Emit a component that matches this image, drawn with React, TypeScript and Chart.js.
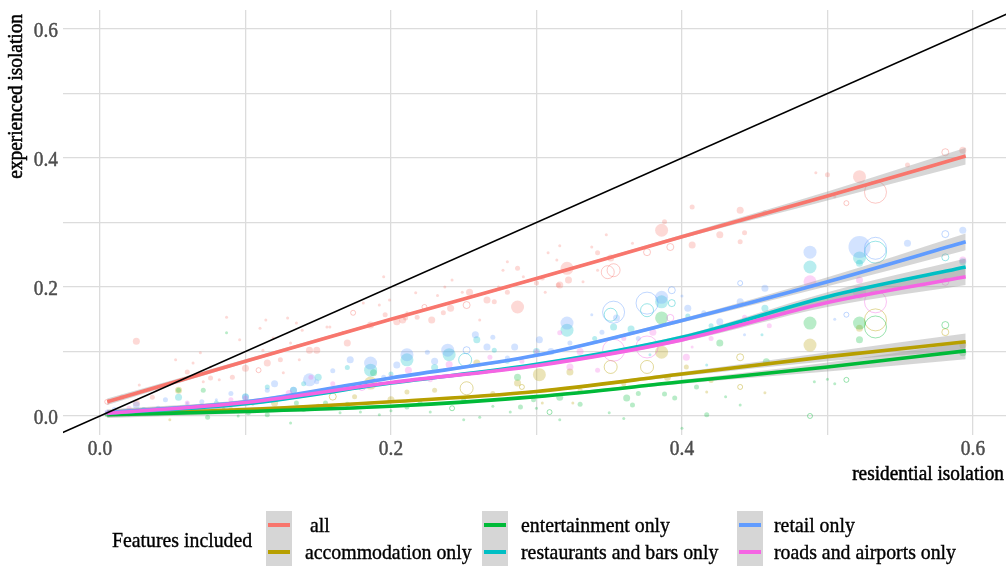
import { useEffect, useRef } from 'react';
import { Chart, registerables } from 'chart.js';

Chart.register(...registerables);

const FONT = '"Liberation Serif", "Times New Roman", serif';

// Feature sets, in legend order
const seriesNames = [' all', 'accommodation only', 'entertainment only', 'restaurants and bars only', 'retail only', 'roads and airports only'];
const seriesColors = ['#F8766D', '#B79F00', '#00BA38', '#00BFC4', '#619CFF', '#F564E3'];

// Axis ticks
const majorTicks = [0, 0.2, 0.4, 0.6];
const gridTicks = [0, 0.1, 0.2, 0.3, 0.4, 0.5, 0.6];
const xTitle = 'residential isolation';
const yTitle = 'experienced isolation';
const legendTitle = 'Features included';

// Smoothed fits (residential isolation -> experienced isolation)
const fitX = [0.005, 0.1, 0.2, 0.3, 0.4, 0.5, 0.595];
const fitAll = [0.022, 0.085, 0.150, 0.213, 0.278, 0.341, 0.403];
const fitAccommodation = [0.003, 0.010, 0.022, 0.038, 0.065, 0.092, 0.115];
const fitEntertainment = [0.002, 0.007, 0.015, 0.030, 0.053, 0.076, 0.101];
const fitRestaurants = [0.004, 0.019, 0.051, 0.080, 0.122, 0.185, 0.231];
const fitRetail = [0.005, 0.022, 0.059, 0.094, 0.148, 0.208, 0.270];
const fitRoads = [0.004, 0.021, 0.052, 0.078, 0.118, 0.176, 0.216];
// half-width of the confidence ribbon at each fitX
const bandHalfWidth = [0.005, 0.003, 0.002, 0.002, 0.003, 0.007, 0.013];

// City observations: [residential, experienced, size class, hollow]
const ptsAll = [
  [0.025, 0.116, 3, 0], [0.027, 0.048, 1, 0], [0.036, 0.029, 2, 0], [0.052, 0.087, 1, 0], [0.064, 0.082, 1, 0],
  [0.060, 0.068, 2, 0], [0.071, 0.053, 1, 0], [0.076, 0.059, 2, 0], [0.087, 0.153, 1, 0], [0.091, 0.060, 2, 0],
  [0.096, 0.118, 1, 0], [0.100, 0.074, 3, 0], [0.110, 0.136, 1, 0], [0.109, 0.071, 2, 1], [0.115, 0.082, 3, 0],
  [0.124, 0.087, 2, 0], [0.131, 0.113, 1, 0], [0.135, 0.144, 1, 0], [0.144, 0.102, 3, 0], [0.149, 0.102, 3, 0],
  [0.156, 0.138, 1, 0], [0.005, 0.022, 2, 1], [0.015, 0.029, 2, 0], [0.025, 0.020, 3, 0], [0.114, 0.149, 1, 0],
  [0.129, 0.152, 1, 0], [0.174, 0.160, 2, 1], [0.186, 0.141, 3, 0], [0.195, 0.216, 1, 0], [0.196, 0.157, 2, 0],
  [0.204, 0.146, 3, 0], [0.210, 0.152, 2, 0], [0.217, 0.191, 1, 0], [0.223, 0.169, 2, 1], [0.228, 0.149, 3, 0],
  [0.237, 0.200, 1, 0], [0.241, 0.167, 3, 0], [0.242, 0.211, 1, 0], [0.254, 0.192, 3, 0], [0.252, 0.172, 3, 1],
  [0.266, 0.180, 3, 0], [0.271, 0.177, 2, 0], [0.280, 0.192, 2, 0], [0.287, 0.229, 2, 0], [0.287, 0.169, 4, 0],
  [0.300, 0.206, 2, 0], [0.308, 0.253, 1, 0], [0.315, 0.203, 2, 0], [0.321, 0.229, 4, 0], [0.322, 0.211, 3, 0],
  [0.338, 0.262, 1, 0], [0.342, 0.253, 2, 0], [0.349, 0.223, 4, 1], [0.170, 0.113, 3, 0], [0.208, 0.149, 3, 0],
  [0.277, 0.226, 1, 0], [0.304, 0.214, 2, 0], [0.316, 0.203, 3, 0], [0.348, 0.281, 1, 0], [0.351, 0.245, 3, 0],
  [0.353, 0.226, 4, 1], [0.366, 0.268, 1, 0], [0.376, 0.254, 3, 1], [0.386, 0.288, 4, 0], [0.388, 0.301, 2, 0],
  [0.392, 0.262, 3, 1], [0.407, 0.265, 3, 0], [0.407, 0.324, 2, 0], [0.426, 0.281, 3, 0], [0.440, 0.319, 3, 0],
  [0.443, 0.284, 2, 0], [0.440, 0.270, 2, 0], [0.457, 0.315, 2, 0], [0.492, 0.377, 1, 0], [0.500, 0.374, 2, 0],
  [0.505, 0.340, 1, 0], [0.513, 0.330, 2, 1], [0.522, 0.371, 4, 0], [0.533, 0.347, 5, 1], [0.555, 0.389, 2, 0],
  [0.581, 0.409, 3, 1], [0.593, 0.412, 3, 0],
  [0.139, 0.133, 1, 0], [0.158, 0.138, 1, 0], [0.167, 0.130, 1, 0], [0.181, 0.175, 1, 0], [0.192, 0.172, 1, 0],
  [0.199, 0.180, 1, 0], [0.211, 0.160, 1, 0], [0.218, 0.153, 2, 0], [0.232, 0.187, 1, 0], [0.236, 0.160, 2, 0],
  [0.249, 0.192, 1, 0], [0.261, 0.149, 1, 0], [0.274, 0.200, 1, 0], [0.280, 0.239, 1, 0], [0.291, 0.216, 1, 0],
  [0.306, 0.192, 1, 0], [0.314, 0.242, 1, 0], [0.316, 0.264, 1, 0], [0.332, 0.208, 1, 0], [0.342, 0.226, 1, 0],
  [0.112, 0.102, 1, 0], [0.119, 0.121, 1, 0], [0.126, 0.067, 1, 0], [0.137, 0.087, 1, 0], [0.048, 0.051, 1, 0],
  [0.039, 0.040, 1, 0], [0.076, 0.076, 1, 0], [0.082, 0.056, 1, 0], [0.069, 0.098, 1, 0],
];
const ptsAccommodation = [
  [0.005, 0.003, 2, 0], [0.020, 0.005, 2, 0], [0.048, -0.006, 1, 0], [0.054, 0.040, 3, 0], [0.090, 0.010, 2, 0],
  [0.120, 0.020, 3, 0], [0.150, 0.015, 2, 0], [0.160, 0.030, 3, 1], [0.186, 0.051, 4, 0], [0.211, 0.037, 2, 0],
  [0.252, 0.043, 4, 1], [0.259, 0.082, 3, 0], [0.287, 0.051, 3, 0], [0.302, 0.064, 4, 0], [0.304, 0.020, 1, 0],
  [0.323, 0.068, 3, 0], [0.325, 0.020, 1, 0], [0.351, 0.076, 4, 1], [0.376, 0.076, 4, 1], [0.386, 0.099, 4, 0],
  [0.403, 0.076, 2, 0], [0.417, 0.037, 1, 0], [0.440, 0.091, 3, 1], [0.440, 0.045, 2, 1], [0.457, 0.036, 1, 0],
  [0.488, 0.110, 4, 0], [0.522, 0.136, 3, 0], [0.533, 0.149, 5, 1], [0.581, 0.130, 3, 1], [0.593, 0.110, 3, 0],
  [0.070, 0.015, 2, 0], [0.105, 0.018, 1, 0], [0.130, 0.030, 2, 0], [0.175, 0.030, 2, 0], [0.200, 0.025, 3, 0],
  [0.230, 0.040, 2, 0], [0.270, 0.035, 2, 0], [0.290, 0.045, 2, 1], [0.330, 0.040, 2, 0], [0.360, 0.050, 2, 0],
  [0.390, 0.060, 3, 0], [0.420, 0.055, 2, 0],
];
const ptsEntertainment = [
  [0.005, 0.002, 2, 0], [0.020, 0.003, 2, 0], [0.040, 0.005, 2, 0], [0.054, 0.040, 2, 0], [0.071, 0.040, 2, 0],
  [0.074, -0.002, 2, 0], [0.087, 0.129, 1, 0], [0.102, 0.005, 2, 0], [0.115, 0.002, 2, 0], [0.131, -0.011, 1, 0],
  [0.140, 0.010, 2, 0], [0.155, 0.020, 2, 0], [0.165, 0.005, 1, 0], [0.179, 0.006, 1, 0], [0.188, 0.067, 3, 0],
  [0.192, 0.002, 1, 0], [0.211, 0.014, 2, 0], [0.227, 0.006, 1, 0], [0.242, 0.012, 2, 1], [0.261, -0.002, 1, 0],
  [0.282, 0.006, 1, 0], [0.287, 0.060, 3, 0], [0.289, 0.014, 2, 0], [0.298, 0.025, 2, 0], [0.309, 0.006, 2, 1],
  [0.316, 0.029, 3, 0], [0.316, -0.006, 1, 0], [0.362, 0.028, 3, 0], [0.366, 0.017, 2, 0], [0.386, 0.152, 4, 0],
  [0.388, 0.034, 2, 0], [0.395, 0.028, 2, 0], [0.400, -0.019, 1, 0], [0.417, 0.002, 2, 0], [0.426, 0.113, 3, 0],
  [0.440, 0.017, 1, 0], [0.458, 0.084, 3, 0], [0.488, 0.144, 4, 0], [0.488, 0.000, 2, 1], [0.491, 0.053, 1, 0],
  [0.500, 0.057, 1, 0], [0.505, 0.050, 1, 0], [0.513, 0.056, 2, 1], [0.522, 0.144, 4, 0], [0.522, 0.118, 3, 0],
  [0.533, 0.138, 5, 1], [0.581, 0.141, 3, 1], [0.593, 0.098, 3, 0],
  [0.060, 0.008, 1, 0], [0.085, 0.012, 1, 0], [0.095, 0.000, 1, 0], [0.120, 0.012, 1, 0], [0.135, 0.020, 2, 0],
  [0.170, 0.018, 2, 0], [0.200, 0.008, 1, 0], [0.220, 0.020, 2, 0], [0.250, 0.025, 2, 0], [0.270, 0.015, 1, 0],
  [0.300, 0.012, 1, 0], [0.330, 0.018, 2, 0], [0.350, 0.005, 1, 0], [0.370, 0.035, 2, 0], [0.410, 0.045, 2, 0],
  [0.430, 0.030, 1, 0], [0.360, -0.004, 1, 0], [0.250, -0.006, 1, 0],
];
const ptsRestaurants = [
  [0.005, 0.004, 2, 0], [0.030, 0.010, 2, 0], [0.054, 0.029, 3, 0], [0.080, 0.020, 2, 0], [0.115, 0.045, 2, 0],
  [0.133, 0.040, 3, 0], [0.150, 0.060, 3, 0], [0.170, 0.075, 2, 0], [0.186, 0.071, 4, 0], [0.211, 0.087, 4, 0],
  [0.240, 0.095, 4, 0], [0.251, 0.087, 4, 1], [0.259, 0.118, 3, 0], [0.271, 0.102, 2, 0], [0.321, 0.133, 4, 0],
  [0.351, 0.157, 4, 1], [0.353, 0.138, 3, 0], [0.376, 0.164, 4, 1], [0.378, 0.095, 1, 0], [0.386, 0.177, 4, 0],
  [0.393, 0.175, 3, 1], [0.404, 0.155, 2, 0], [0.417, 0.079, 1, 0], [0.455, 0.126, 1, 0], [0.457, 0.167, 3, 0],
  [0.488, 0.231, 4, 0], [0.522, 0.245, 4, 0], [0.522, 0.237, 3, 0], [0.533, 0.254, 5, 1], [0.581, 0.246, 3, 1],
  [0.593, 0.239, 3, 0],
  [0.100, 0.030, 3, 0], [0.140, 0.050, 2, 0], [0.200, 0.065, 2, 0], [0.230, 0.075, 3, 0], [0.280, 0.085, 2, 0],
  [0.300, 0.100, 3, 0], [0.340, 0.120, 2, 0], [0.365, 0.135, 3, 0], [0.420, 0.140, 2, 0], [0.470, 0.160, 2, 0],
];
const ptsRetail = [
  [0.005, 0.006, 2, 0], [0.010, 0.010, 2, 0], [0.025, 0.017, 3, 0], [0.040, 0.012, 2, 0], [0.060, 0.020, 1, 0],
  [0.070, 0.022, 2, 0], [0.080, 0.025, 1, 0], [0.100, 0.029, 3, 0], [0.115, 0.040, 2, 0], [0.133, 0.040, 3, 0],
  [0.144, 0.056, 4, 0], [0.149, 0.053, 2, 0], [0.172, 0.087, 3, 0], [0.186, 0.082, 4, 0], [0.204, 0.079, 3, 0],
  [0.211, 0.095, 4, 0], [0.225, 0.099, 2, 0], [0.239, 0.102, 4, 0], [0.252, 0.102, 3, 1], [0.258, 0.126, 3, 0],
  [0.266, 0.107, 3, 0], [0.270, 0.122, 2, 0], [0.285, 0.107, 3, 0], [0.302, 0.118, 3, 0], [0.321, 0.144, 4, 0],
  [0.323, 0.113, 2, 0], [0.338, 0.157, 1, 0], [0.353, 0.161, 5, 1], [0.355, 0.152, 3, 0], [0.376, 0.175, 5, 1],
  [0.386, 0.184, 4, 0], [0.393, 0.195, 3, 1], [0.400, 0.186, 1, 0], [0.404, 0.167, 3, 0], [0.426, 0.146, 3, 0],
  [0.440, 0.206, 2, 1], [0.440, 0.177, 3, 0], [0.457, 0.198, 3, 0], [0.488, 0.254, 4, 0], [0.443, 0.126, 1, 0],
  [0.505, 0.150, 1, 0], [0.513, 0.157, 2, 1], [0.522, 0.262, 5, 0], [0.533, 0.260, 5, 1], [0.555, 0.268, 3, 0],
  [0.581, 0.282, 3, 1], [0.593, 0.288, 3, 0],
  [0.045, 0.025, 2, 0], [0.090, 0.035, 2, 0], [0.120, 0.050, 3, 0], [0.160, 0.070, 2, 0], [0.195, 0.060, 2, 0],
  [0.230, 0.085, 3, 0], [0.280, 0.090, 2, 0], [0.310, 0.100, 3, 0], [0.345, 0.130, 2, 0], [0.370, 0.120, 2, 0],
  [0.415, 0.160, 2, 0],
];
const ptsRoads = [
  [0.005, 0.005, 2, 0], [0.020, 0.012, 2, 0], [0.060, 0.020, 2, 0], [0.090, 0.025, 2, 0], [0.130, 0.035, 3, 0],
  [0.160, 0.050, 2, 0], [0.180, 0.045, 3, 1], [0.212, 0.071, 3, 0], [0.227, 0.056, 2, 0], [0.268, 0.091, 2, 0],
  [0.316, 0.129, 2, 0], [0.323, 0.076, 3, 0], [0.342, 0.071, 2, 0], [0.353, 0.102, 5, 1], [0.376, 0.107, 5, 1],
  [0.392, 0.152, 3, 1], [0.403, 0.091, 3, 0], [0.407, 0.107, 1, 0], [0.443, 0.153, 2, 0], [0.488, 0.208, 4, 0],
  [0.522, 0.211, 3, 0], [0.522, 0.192, 4, 0], [0.533, 0.177, 5, 1], [0.581, 0.208, 3, 1], [0.593, 0.242, 3, 0],
  [0.100, 0.028, 2, 0], [0.145, 0.060, 2, 0], [0.200, 0.060, 2, 0], [0.240, 0.080, 3, 0], [0.290, 0.085, 2, 0],
  [0.300, 0.100, 2, 0], [0.330, 0.100, 3, 0], [0.360, 0.120, 2, 0], [0.380, 0.130, 3, 0], [0.420, 0.120, 2, 0],
  [0.460, 0.140, 2, 0],
];

const fits = [fitAll, fitAccommodation, fitEntertainment, fitRestaurants, fitRetail, fitRoads];
const points = [ptsAll, ptsAccommodation, ptsEntertainment, ptsRestaurants, ptsRetail, ptsRoads];

// radius in px for each size class
const sizeRadius = [0, 1.5, 2.5, 3.5, 6.5, 11];

const X_MIN = -0.0254;
const X_MAX = 0.6227;
const Y_MIN = -0.0295;
const Y_MAX = 0.6295;

function rgba(hex: string, a: number) {
  const n = parseInt(hex.slice(1), 16);
  return `rgba(${(n >> 16) & 255},${(n >> 8) & 255},${n & 255},${a})`;
}

// draws horizontally condensed, slightly emboldened text at (x, y)
function condensedText(ctx: CanvasRenderingContext2D, text: string, x: number, y: number, sx: number, align: CanvasTextAlign, rotate = 0) {
  ctx.save();
  ctx.translate(x, y);
  if (rotate) ctx.rotate(rotate);
  ctx.scale(sx, 1);
  ctx.textAlign = align;
  ctx.textBaseline = 'alphabetic';
  ctx.fillText(text, 0, 0);
  ctx.strokeStyle = ctx.fillStyle;
  ctx.lineWidth = 0.5;
  ctx.strokeText(text, 0, 0);
  ctx.restore();
}

// tick labels and axis titles, placed from the chart's own scales
const axisTextPlugin = {
  id: 'axisText',
  afterDraw(chart: any) {
    const { ctx, scales } = chart;
    const xs = scales.x;
    const ys = scales.y;
    ctx.save();
    ctx.fillStyle = '#4d4d4d';
    ctx.font = `22px ${FONT}`;
    majorTicks.forEach((v) => {
      condensedText(ctx, v.toFixed(1), xs.getPixelForValue(v), xs.top + 20, 0.88, 'center');
      condensedText(ctx, v.toFixed(1), ys.right - 5, ys.getPixelForValue(v) + 8.3, 0.88, 'right');
    });
    ctx.fillStyle = '#000000';
    ctx.font = `21px ${FONT}`;
    condensedText(ctx, xTitle, xs.right - 2, xs.top + 45, 0.92, 'right');
    condensedText(ctx, yTitle, ys.left + 22, ys.top + 4, 0.92, 'right', -Math.PI / 2);
    ctx.restore();
  },
};

function buildDatasets() {
  const ds: any[] = [];
  // identity reference line y = x
  ds.push({
    type: 'line',
    data: [{ x: -0.1, y: -0.1 }, { x: 1, y: 1 }],
    borderColor: '#000000',
    borderWidth: 1.5,
    pointRadius: 0,
    order: 0,
  });
  // fitted curves
  fits.forEach((f, i) => {
    ds.push({
      type: 'line',
      data: fitX.map((x, j) => ({ x, y: f[j] })),
      borderColor: seriesColors[i],
      borderWidth: 3.6,
      pointRadius: 0,
      cubicInterpolationMode: 'monotone',
      order: 6 - i,
    });
  });
  // confidence ribbons
  fits.forEach((f, i) => {
    ds.push({
      type: 'line',
      data: fitX.map((x, j) => ({ x, y: f[j] + bandHalfWidth[j] })),
      borderWidth: 0,
      borderColor: 'rgba(0,0,0,0)',
      pointRadius: 0,
      cubicInterpolationMode: 'monotone',
      fill: false,
      order: 10 + i,
    });
    ds.push({
      type: 'line',
      data: fitX.map((x, j) => ({ x, y: f[j] - bandHalfWidth[j] })),
      borderWidth: 0,
      borderColor: 'rgba(0,0,0,0)',
      backgroundColor: 'rgba(153,153,153,0.4)',
      pointRadius: 0,
      cubicInterpolationMode: 'monotone',
      fill: '-1',
      order: 10 + i,
    });
  });
  // observations
  points.forEach((pts, i) => {
    const col = seriesColors[i];
    ds.push({
      type: 'scatter',
      data: pts.map((p) => ({ x: p[0], y: p[1], s: p[2], h: p[3] })),
      pointRadius: (c: any) => sizeRadius[c.raw?.s ?? 1],
      backgroundColor: (c: any) => (c.raw?.h ? 'rgba(0,0,0,0)' : rgba(col, 0.28)),
      borderColor: (c: any) => (c.raw?.h ? rgba(col, 0.4) : 'rgba(0,0,0,0)'),
      borderWidth: (c: any) => (c.raw?.h ? 1 : 0),
      order: 30 - i,
    });
  });
  return ds;
}

const keyLeft = [266, 482, 737];
const textLeft = [305, 521, 774];
const rowCenter = [525, 552];

const legendText = {
  position: 'absolute' as const,
  height: 28,
  lineHeight: '28px',
  fontSize: 22,
  color: '#000',
  whiteSpace: 'pre' as const,
  transform: 'scaleX(0.9)',
  transformOrigin: 'left center',
  WebkitTextStroke: '0.4px #000',
};

export default function App() {
  const ref = useRef<HTMLCanvasElement>(null);

  useEffect(() => {
    const zeroPad = (ax: any) => {
      ax.paddingLeft = 0;
      ax.paddingRight = 0;
      ax.paddingTop = 0;
      ax.paddingBottom = 0;
    };
    const chart = new Chart(ref.current!, {
      type: 'scatter',
      data: { datasets: buildDatasets() },
      plugins: [axisTextPlugin],
      options: {
        responsive: false,
        animation: false,
        devicePixelRatio: 1,
        events: [],
        layout: { autoPadding: false, padding: { left: 0, top: 10, right: 2, bottom: 84 } },
        plugins: { legend: { display: false }, tooltip: { enabled: false } },
        scales: {
          x: {
            type: 'linear',
            min: X_MIN,
            max: X_MAX,
            afterBuildTicks: (ax: any) => {
              ax.ticks = gridTicks.map((v) => ({ value: v }));
            },
            afterFit: (ax: any) => {
              ax.height = 48;
              zeroPad(ax);
            },
            grid: { color: '#dcdcdc', lineWidth: 1.3, drawTicks: false },
            border: { display: false },
            ticks: { display: false },
          },
          y: {
            type: 'linear',
            min: Y_MIN,
            max: Y_MAX,
            afterBuildTicks: (ax: any) => {
              ax.ticks = gridTicks.map((v) => ({ value: v }));
            },
            afterFit: (ax: any) => {
              ax.width = 63;
              zeroPad(ax);
            },
            grid: { color: '#dcdcdc', lineWidth: 1.3, drawTicks: false },
            border: { display: false },
            ticks: { display: false },
          },
        },
      } as any,
    });
    return () => chart.destroy();
  }, []);

  return (
    <div style={{ position: 'fixed', left: 0, top: 0, width: 1008, height: 567, background: '#ffffff', fontFamily: FONT, overflow: 'hidden' }}>
      <canvas ref={ref} width={1008} height={567} style={{ position: 'absolute', left: 0, top: 0, width: 1008, height: 567 }} />
      <div style={{ ...legendText, left: 112, top: 540 - 14 }}>{legendTitle}</div>
      {seriesNames.map((name, i) => {
        const col = Math.floor(i / 2);
        const row = i % 2;
        const cy = rowCenter[row];
        return (
          <div key={name}>
            <div style={{ position: 'absolute', left: keyLeft[col], top: cy - 14, width: 26, height: 28, background: '#d6d6d6' }} />
            <div style={{ position: 'absolute', left: keyLeft[col] + 2, top: cy - 2, width: 22, height: 4, background: seriesColors[i] }} />
            <div style={{ ...legendText, left: textLeft[col], top: cy - 14 }}>{name}</div>
          </div>
        );
      })}
    </div>
  );
}
